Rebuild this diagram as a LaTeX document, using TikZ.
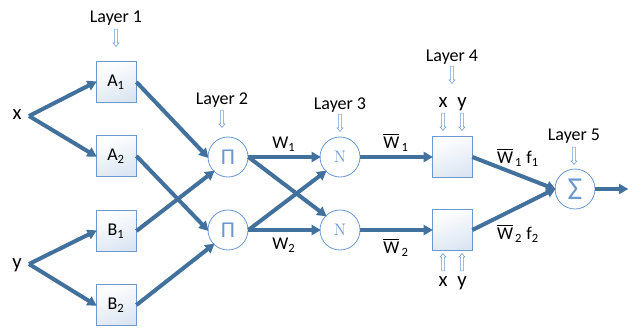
\documentclass[tikz,border=0pt]{standalone}
\usepackage{amsmath}
\usepackage{fontspec}
\setsansfont{Carlito}
\renewcommand{\familydefault}{\sfdefault}
\usepackage{tikz}
\usetikzlibrary{arrows.meta,shapes.arrows}

\definecolor{linkblue}{HTML}{41719C}
\definecolor{edgeblue}{HTML}{6A98CF}
\definecolor{fillblue}{HTML}{DCE6F2}

\tikzset{
  link/.style={draw=linkblue, line width=3pt, -{Triangle[length=7pt,width=7.5pt]}, shorten >=-1pt},
  unitbox/.style={draw=edgeblue, line width=0.6pt, minimum width=30pt, minimum height=31pt, inner sep=0pt,
    top color=white, bottom color=fillblue, shading angle=20, font=\fontsize{13.5}{15}\selectfont},
  unitcirc/.style={circle, draw=edgeblue, line width=0.6pt, fill=white, minimum size=30pt, inner sep=0pt, text=edgeblue},
  hint/.style={single arrow, draw=edgeblue, fill=white, line width=0.4pt, inner sep=0.8pt,
    minimum height=13pt, single arrow head extend=1.3pt, single arrow tip angle=80},
  lbl/.style={inner sep=0.75pt, font=\fontsize{13.5}{15}\selectfont}
}

\begin{document}
\begin{tikzpicture}[x=0.75pt,y=0.75pt,yscale=-1,xscale=1]
\useasboundingbox (0,0) rectangle (635,329);

% inputs
\node[lbl, font=\fontsize{15.5}{17}\selectfont] (x) at (17,115) {x};
\node[lbl, font=\fontsize{15.5}{17}\selectfont] (y) at (17,265) {y};
\coordinate (xs) at (29,116);
\coordinate (ys) at (29,264);

% layer 1
\node[unitbox] (A1) at (116,82) {A\textsubscript{1}};
\node[unitbox] (A2) at (116,156) {A\textsubscript{2}};
\node[unitbox] (B1) at (116,231) {B\textsubscript{1}};
\node[unitbox] (B2) at (116,305) {B\textsubscript{2}};

% layer 2
\node[unitcirc, font=\fontsize{17}{19}\selectfont] (P1) at (228,157) {Π};
\node[unitcirc, font=\fontsize{17}{19}\selectfont] (P2) at (228,230) {Π};

% layer 3
\node[unitcirc, font=\rmfamily\fontsize{12.5}{14}\selectfont] (N1) at (340,157) {N};
\node[unitcirc, font=\rmfamily\fontsize{12.5}{14}\selectfont] (N2) at (340,230) {N};

% layer 4
\node[unitbox] (C1) at (452,157) {};
\node[unitbox] (C2) at (452,230) {};

% layer 5
\node[unitcirc, font=\fontsize{24}{26}\selectfont] (S) at (575,189) {Σ};
\coordinate (out) at (627,189);

% layer titles
\node[lbl] (L1) at (116,18) {Layer 1};
\node[lbl] (L2) at (222,100) {Layer 2};
\node[lbl] (L3) at (340,105) {Layer 3};
\node[lbl] (L4) at (452,57) {Layer 4};
\node[lbl] (L5) at (574,136) {Layer 5};
\node[hint, rotate=-90] (h1) at (116,37) {};
\node[hint, rotate=-90] (h2) at (222,118) {};
\node[hint, rotate=-90] (h3) at (340,122) {};
\node[hint, rotate=-90] (h4) at (452,74) {};
\node[hint, rotate=-90] (h5) at (574,155) {};

% x y inputs to layer 4
\node[lbl, font=\fontsize{15.5}{17}\selectfont] (x4a) at (443,103) {x};
\node[lbl, font=\fontsize{15.5}{17}\selectfont] (y4a) at (462,104) {y};
\node[lbl, font=\fontsize{15.5}{17}\selectfont] (x4b) at (443,282) {x};
\node[lbl, font=\fontsize{15.5}{17}\selectfont] (y4b) at (462,283) {y};
\node[hint, rotate=-90] (hx4a) at (443,121) {};
\node[hint, rotate=-90] (hy4a) at (462,121) {};
\node[hint, rotate=90] (hx4b) at (443,263) {};
\node[hint, rotate=90] (hy4b) at (462,263) {};

% links
\draw[link] (xs) -- (A1.west);
\draw[link] (xs) -- (A2.west);
\draw[link] (ys) -- (B1.west);
\draw[link] (ys) -- (B2.west);
\draw[link] (A1.east) -- (P1.west);
\draw[link] (A2.east) -- (P2.west);
\draw[link] (B1.east) -- (P1.south west);
\draw[link] (B2.east) -- (P2.south west);
\draw[link] (P1.east) -- (N1.west) node[midway, above=2pt, lbl, text=black] {W\textsubscript{1}};
\draw[link] (P1.east) -- (N2.north west);
\draw[link] (P2.east) -- (N1.south west);
\draw[link] (P2.east) -- (N2.west) node[midway, below=4pt, lbl, text=black] {W\textsubscript{2}};
\draw[link] (N1.east) -- (C1.west) node[midway, above=2pt, lbl, text=black] {$\overline{\text{W}}$\textsubscript{\,1}};
\draw[link] (N2.east) -- (C2.west) node[midway, below=4pt, lbl, text=black] {$\overline{\text{W}}$\textsubscript{\,2}};
\draw[link] (C1.east) -- (S.west);
\draw[link] (C2.east) -- (S.west);
\draw[link] (S.east) -- (out);

% labels of layer 4 outputs
\node[lbl] (f1) at (518,157) {$\overline{\text{W}}$\textsubscript{\,1} f\textsubscript{1}};
\node[lbl] (f2) at (518,233) {$\overline{\text{W}}$\textsubscript{\,2} f\textsubscript{2}};
\end{tikzpicture}
\end{document}
